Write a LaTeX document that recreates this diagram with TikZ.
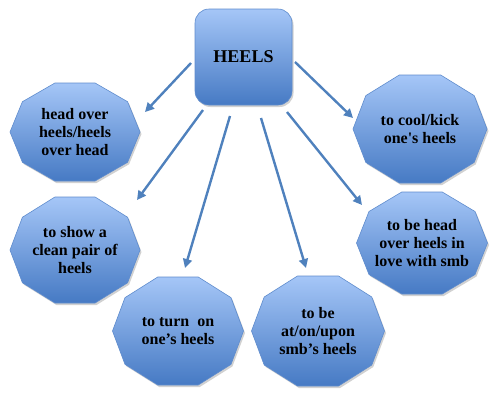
\documentclass[tikz,border=0pt]{standalone}
\usepackage{fontspec}
\newfontfamily\dfont{Liberation Serif}
\usetikzlibrary{arrows.meta,shadows}
\definecolor{ctop}{RGB}{165,198,247}
\definecolor{cbot}{RGB}{70,122,196}
\definecolor{cedge}{RGB}{95,140,205}
\definecolor{carrow}{RGB}{79,129,189}
\newcommand\mydeca[6]{%
  \pgfmathsetmacro\rx{#4/2}%
  \pgfmathsetmacro\ry{#5/1.902}%
  \path[decafill, shift={(#2,-#3)}] (0:\rx pt and \ry pt)
    \foreach \a in {36,72,...,324}{ -- (\a:\rx pt and \ry pt)} -- cycle;
  \node[decatext] (#1) at (#2,-#3) {#6};}
\begin{document}
\begin{tikzpicture}[x=1pt,y=1pt,
  decafill/.style={top color=ctop, bottom color=cbot, draw=cedge, line width=0.6pt,
    drop shadow={shadow xshift=1.5pt, shadow yshift=-2pt, opacity=0.3, fill=black!60}},
  decatext/.style={align=center, inner sep=0pt,
    font=\dfont\bfseries\fontsize{16}{18.3}\selectfont},
  conn/.style={draw=carrow, line width=2.4pt, -{Triangle[length=9pt,width=9pt]}}]
\useasboundingbox (0,0) rectangle (498,-400);
% centre box
\node[top color=ctop, bottom color=cbot, draw=cedge, line width=0.6pt,
  rounded corners=14pt, minimum width=97pt, minimum height=96pt,
  drop shadow={shadow xshift=1.5pt, shadow yshift=-2pt, opacity=0.3, fill=black!60},
  font=\dfont\bfseries\fontsize{18}{20}\selectfont] (heels) at (243.5,-57) {HEELS};
% decagons
\mydeca{n1}{75}{132}{130}{98}{head over\\heels/heels\\over head}
\mydeca{n2}{75}{250}{130}{106}{to show a\\clean pair of\\heels}
\mydeca{n3}{178}{331}{131}{108}{to turn\ \ on\\one’s heels}
\mydeca{n4}{318}{331}{133}{110}{to be\\at/on/upon\\smb’s heels}
\mydeca{n5}{422}{243}{131}{102}{to be head\\over heels in\\love with smb}
\mydeca{n6}{420}{129}{134}{108}{to cool/kick\\one's heels}
% arrow end points
\coordinate (s1) at (191,-63);  \coordinate (e1) at (145,-112);
\coordinate (s2) at (203,-110); \coordinate (e2) at (137,-200);
\coordinate (s3) at (230,-116); \coordinate (e3) at (185,-268);
\coordinate (s4) at (261,-118); \coordinate (e4) at (306,-268);
\coordinate (s5) at (295,-62);  \coordinate (e5) at (353,-118);
\coordinate (s6) at (287,-112); \coordinate (e6) at (362,-205);
\foreach \i in {1,...,6}{\draw[conn] (s\i) -- (e\i);}
\end{tikzpicture}
\end{document}
